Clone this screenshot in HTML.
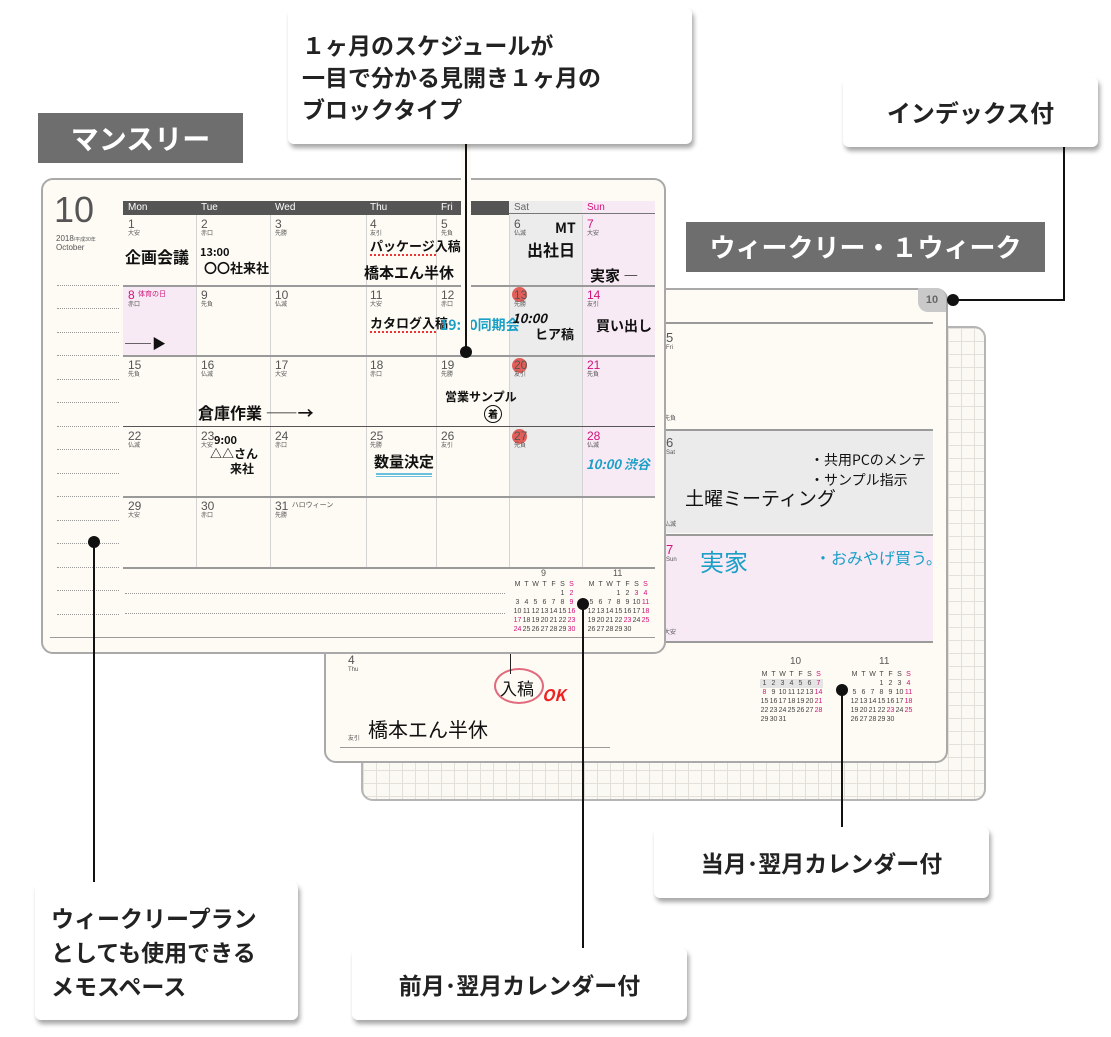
<!DOCTYPE html>
<html><head><meta charset="utf-8">
<style>
*{margin:0;padding:0;box-sizing:border-box}
body{width:1111px;height:1037px;background:#fff;position:relative;overflow:hidden;font-family:"Liberation Sans","Noto Sans CJK JP",sans-serif}
.a{position:absolute}
.box{position:absolute;background:#fff;border-radius:6px;box-shadow:2px 4px 5px rgba(0,0,0,.35);font-weight:bold;color:#222;font-family:"Noto Sans CJK JP",sans-serif;white-space:nowrap}
.lab{position:absolute;background:#6e6e6e;color:#fff;font-weight:bold;font-family:"Noto Sans CJK JP",sans-serif;text-align:center;white-space:nowrap}
.page{position:absolute;background:#fdfbf4;border:2px solid #a9a9a9;border-radius:12px}
.d{position:absolute;font-size:12px;color:#555;line-height:12px}
.d i{display:block;font-style:normal;font-size:6px;line-height:8px;color:#555}
.pk{color:#d0127a}
.v{position:absolute;width:1px;background:#d4d4d4}
.h{position:absolute;height:2px;background:#9a9a9a}
.hw{position:absolute;font-family:"Noto Sans CJK JP",sans-serif;font-weight:bold;color:#111;white-space:nowrap}
.bl{color:#1a9fc7}
.cn{position:absolute;background:#111}
.dot{position:absolute;width:12px;height:12px;border-radius:50%;background:#111}
.dl{position:absolute;height:0;border-top:1px dotted #999}
.mc{position:absolute;font-size:7px;color:#444;border-collapse:collapse}
.mc td{width:9px;text-align:center;line-height:9px;padding:0}
.mc td.s{color:#d0127a}
.rc{position:absolute;width:15px;height:15px;border-radius:50%;background:#e0463f;opacity:.85}
</style></head><body>

<div class="a" style="left:361px;top:326px;width:625px;height:475px;border:2px solid #b5b5b5;border-radius:12px;background-color:#fbf9f3;background-image:linear-gradient(#e4e0d8 1px,transparent 1px),linear-gradient(90deg,#e4e0d8 1px,transparent 1px);background-size:13px 13px"></div>

<div class="page" style="left:324px;top:288px;width:624px;height:475px"></div>
<div class="a" style="left:918px;top:288px;width:28px;height:24px;background:#c9c9c9;border-radius:0 10px 0 10px;font-size:11px;font-weight:bold;color:#666;text-align:center;line-height:24px">10</div>
<div class="h" style="left:588px;top:322px;width:345px"></div>
<div class="a" style="left:588px;top:430px;width:345px;height:103px;background:#ebebeb"></div>
<div class="a" style="left:588px;top:536px;width:345px;height:105px;background:#f8eaf4"></div>
<div class="h" style="left:588px;top:429px;width:345px"></div>
<div class="h" style="left:588px;top:534px;width:345px"></div>
<div class="h" style="left:588px;top:641px;width:345px"></div>
<div class="d" style="left:666px;top:332px;font-size:13px">5<i>Fri</i></div>
<div class="d" style="left:664px;top:413px;font-size:6px">先負</div>
<div class="d" style="left:666px;top:437px;font-size:13px">6<i>Sat</i></div>
<div class="d" style="left:664px;top:519px;font-size:6px">仏滅</div>
<div class="d pk" style="left:666px;top:544px;font-size:13px">7<i class="pk">Sun</i></div>
<div class="d" style="left:664px;top:627px;font-size:6px">大安</div>
<div class="hw" style="left:685px;top:484px;font-size:19px;font-weight:normal">土曜ミーティング</div>
<div class="hw" style="left:810px;top:450px;font-size:14px;font-weight:normal">・共用PCのメンテ</div>
<div class="hw" style="left:810px;top:470px;font-size:14px;font-weight:normal">・サンプル指示</div>
<div class="hw bl" style="left:700px;top:543px;font-size:24px;font-weight:normal">実家</div>
<div class="hw bl" style="left:815px;top:545px;font-size:16px;font-weight:normal">・おみやげ買う。</div>
<div class="d" style="left:348px;top:654px;font-size:12px">4<i>Thu</i></div>
<div class="d" style="left:348px;top:733px;font-size:6px">友引</div>
<div class="hw" style="left:368px;top:714px;font-size:20px;font-weight:normal">橋本エん半休</div>
<div class="a" style="left:494px;top:668px;width:50px;height:36px;border:2px solid #e26a7d;border-radius:50%"></div>
<div class="hw" style="left:500px;top:675px;font-size:17px;font-weight:normal">入稿</div>
<div class="hw" style="left:542px;top:682px;font-size:16px;color:#e22;font-style:italic">OK</div>
<div class="a" style="left:510px;top:654px;width:1px;height:20px;background:#222"></div>
<div class="h" style="left:340px;top:747px;width:270px;height:1px"></div>
<div class="a" style="left:790px;top:656px;font-size:10px;color:#555">10</div>
<div class="a" style="left:879px;top:656px;font-size:10px;color:#555">11</div>
<table class="mc" style="left:760px;top:670px"><tr><td>M</td><td>T</td><td>W</td><td>T</td><td>F</td><td>S</td><td class="s">S</td></tr>
<tr style="background:#e4e4e4"><td>1</td><td>2</td><td>3</td><td>4</td><td>5</td><td>6</td><td class="s">7</td></tr>
<tr><td class="s">8</td><td>9</td><td>10</td><td>11</td><td>12</td><td>13</td><td class="s">14</td></tr>
<tr><td>15</td><td>16</td><td>17</td><td>18</td><td>19</td><td>20</td><td class="s">21</td></tr>
<tr><td>22</td><td>23</td><td>24</td><td>25</td><td>26</td><td>27</td><td class="s">28</td></tr>
<tr><td>29</td><td>30</td><td>31</td><td></td><td></td><td></td><td></td></tr></table>
<table class="mc" style="left:850px;top:670px"><tr><td>M</td><td>T</td><td>W</td><td>T</td><td>F</td><td>S</td><td class="s">S</td></tr>
<tr><td></td><td></td><td></td><td>1</td><td>2</td><td>3</td><td class="s">4</td></tr>
<tr><td>5</td><td>6</td><td>7</td><td>8</td><td>9</td><td>10</td><td class="s">11</td></tr>
<tr><td>12</td><td>13</td><td>14</td><td>15</td><td>16</td><td>17</td><td class="s">18</td></tr>
<tr><td>19</td><td>20</td><td>21</td><td>22</td><td class="s">23</td><td>24</td><td class="s">25</td></tr>
<tr><td>26</td><td>27</td><td>28</td><td>29</td><td>30</td><td></td><td></td></tr></table>

<div class="page" style="left:41px;top:178px;width:625px;height:476px"></div>
<div class="a" style="left:54px;top:190px;font-size:36px;color:#555;line-height:40px">10</div>
<div class="a" style="left:56px;top:234px;font-size:8px;color:#555">2018<span style="font-size:5px">/平成30年</span><br>October</div>
<div class="dl" style="left:57px;top:285px;width:62px"></div>
<div class="dl" style="left:57px;top:308px;width:62px"></div>
<div class="dl" style="left:57px;top:332px;width:62px"></div>
<div class="dl" style="left:57px;top:355px;width:62px"></div>
<div class="dl" style="left:57px;top:379px;width:62px"></div>
<div class="dl" style="left:57px;top:402px;width:62px"></div>
<div class="dl" style="left:57px;top:426px;width:62px"></div>
<div class="dl" style="left:57px;top:449px;width:62px"></div>
<div class="dl" style="left:57px;top:473px;width:62px"></div>
<div class="dl" style="left:57px;top:496px;width:62px"></div>
<div class="dl" style="left:57px;top:520px;width:62px"></div>
<div class="dl" style="left:57px;top:543px;width:62px"></div>
<div class="dl" style="left:57px;top:567px;width:62px"></div>
<div class="dl" style="left:57px;top:590px;width:62px"></div>
<div class="dl" style="left:57px;top:614px;width:62px"></div>
<div class="dl" style="left:125px;top:613px;width:380px"></div>
<div class="dl" style="left:125px;top:593px;width:380px"></div>
<div class="a" style="left:509px;top:201px;width:73px;height:296px;background:#ececec"></div>
<div class="a" style="left:582px;top:201px;width:73px;height:296px;background:#f8eaf4"></div>
<div class="a" style="left:123px;top:287px;width:73px;height:68px;background:#f8eaf4"></div>
<div class="a" style="left:123px;top:201px;width:386px;height:14px;background:#555"></div>
<div class="h" style="left:509px;top:213px;width:146px;height:1px;background:#777"></div>
<div class="a" style="left:128px;top:202px;font-size:10px;color:#fff">Mon</div>
<div class="a" style="left:201px;top:202px;font-size:10px;color:#fff">Tue</div>
<div class="a" style="left:275px;top:202px;font-size:10px;color:#fff">Wed</div>
<div class="a" style="left:370px;top:202px;font-size:10px;color:#fff">Thu</div>
<div class="a" style="left:441px;top:202px;font-size:10px;color:#fff">Fri</div>
<div class="a" style="left:514px;top:202px;font-size:10px;color:#666">Sat</div>
<div class="a pk" style="left:587px;top:202px;font-size:10px">Sun</div>
<div class="v" style="left:196px;top:215px;height:352px"></div>
<div class="v" style="left:270px;top:215px;height:352px"></div>
<div class="v" style="left:366px;top:215px;height:352px"></div>
<div class="v" style="left:436px;top:215px;height:352px"></div>
<div class="v" style="left:509px;top:215px;height:352px"></div>
<div class="v" style="left:582px;top:215px;height:352px"></div>
<div class="h" style="left:123px;top:285px;width:532px"></div>
<div class="h" style="left:123px;top:355px;width:532px"></div>
<div class="h" style="left:123px;top:426px;width:532px;background:#555;height:1px"></div>
<div class="h" style="left:123px;top:496px;width:532px"></div>
<div class="h" style="left:123px;top:567px;width:532px"></div>
<div class="h" style="left:50px;top:637px;width:605px;height:1px"></div>
<div class="rc" style="left:512px;top:287px"></div>
<div class="rc" style="left:512px;top:358px"></div>
<div class="rc" style="left:512px;top:429px"></div>
<div class="d" style="left:128px;top:218px">1<i>大安</i></div>
<div class="d" style="left:201px;top:218px">2<i>赤口</i></div>
<div class="d" style="left:275px;top:218px">3<i>先勝</i></div>
<div class="d" style="left:370px;top:218px">4<i>友引</i></div>
<div class="d" style="left:441px;top:218px">5<i>先負</i></div>
<div class="d" style="left:514px;top:218px">6<i>仏滅</i></div>
<div class="d pk" style="left:587px;top:218px">7<i>大安</i></div>
<div class="d pk" style="left:128px;top:289px">8 <span style="font-size:7px;vertical-align:top">体育の日</span><i>赤口</i></div>
<div class="d" style="left:201px;top:289px">9<i>先負</i></div>
<div class="d" style="left:275px;top:289px">10<i>仏滅</i></div>
<div class="d" style="left:370px;top:289px">11<i>大安</i></div>
<div class="d" style="left:441px;top:289px">12<i>赤口</i></div>
<div class="d" style="left:514px;top:289px">13<i>先勝</i></div>
<div class="d pk" style="left:587px;top:289px">14<i>友引</i></div>
<div class="d" style="left:128px;top:359px">15<i>先負</i></div>
<div class="d" style="left:201px;top:359px">16<i>仏滅</i></div>
<div class="d" style="left:275px;top:359px">17<i>大安</i></div>
<div class="d" style="left:370px;top:359px">18<i>赤口</i></div>
<div class="d" style="left:441px;top:359px">19<i>先勝</i></div>
<div class="d" style="left:514px;top:359px">20<i>友引</i></div>
<div class="d pk" style="left:587px;top:359px">21<i>先負</i></div>
<div class="d" style="left:128px;top:430px">22<i>仏滅</i></div>
<div class="d" style="left:201px;top:430px">23<i>大安</i></div>
<div class="d" style="left:275px;top:430px">24<i>赤口</i></div>
<div class="d" style="left:370px;top:430px">25<i>先勝</i></div>
<div class="d" style="left:441px;top:430px">26<i>友引</i></div>
<div class="d" style="left:514px;top:430px">27<i>先負</i></div>
<div class="d pk" style="left:587px;top:430px">28<i>仏滅</i></div>
<div class="d" style="left:128px;top:500px">29<i>大安</i></div>
<div class="d" style="left:201px;top:500px">30<i>赤口</i></div>
<div class="d" style="left:275px;top:500px">31 <span style="font-size:7px;vertical-align:top">ハロウィーン</span><i>先勝</i></div>
<div class="hw" style="left:125px;top:244px;font-size:16px">企画会議</div>
<div class="hw" style="left:200px;top:244px;font-size:11px">13:00</div>
<div class="hw" style="left:204px;top:258px;font-size:13px">〇〇社来社</div>
<div class="hw" style="left:370px;top:236px;font-size:13px">パッケージ入稿</div>
<div class="a" style="left:370px;top:254px;width:66px;border-top:2px dotted #e33"></div>
<div class="hw" style="left:364px;top:262px;font-size:15px">橋本エん半休</div>
<div class="hw" style="left:555px;top:218px;font-size:14px">MT</div>
<div class="hw" style="left:527px;top:237px;font-size:16px">出社日</div>
<div class="hw" style="left:590px;top:265px;font-size:15px">実家 ―</div>
<div class="hw" style="left:124px;top:334px;font-size:14px">――▶</div>
<div class="hw" style="left:370px;top:313px;font-size:13px">カタログ入稿</div>
<div class="a" style="left:370px;top:331px;width:66px;border-top:2px dotted #e33"></div>
<div class="hw bl" style="left:440px;top:315px;font-size:14px">19:00同期会</div>
<div class="hw" style="left:512px;top:308px;font-size:13px;font-style:italic">10:00</div>
<div class="hw" style="left:535px;top:324px;font-size:13px">ヒア稿</div>
<div class="hw" style="left:596px;top:316px;font-size:14px">買い出し</div>
<div class="hw" style="left:198px;top:400px;font-size:16px">倉庫作業 ――→</div>
<div class="hw" style="left:445px;top:388px;font-size:12px">営業サンプル</div>
<div class="a" style="left:484px;top:405px;width:18px;height:18px;border:1.5px solid #111;border-radius:50%;font-size:10px;text-align:center;font-weight:bold">着</div>
<div class="hw" style="left:214px;top:432px;font-size:11px">9:00</div>
<div class="hw" style="left:210px;top:445px;font-size:12px">△△さん</div>
<div class="hw" style="left:230px;top:460px;font-size:12px">来社</div>
<div class="hw" style="left:374px;top:451px;font-size:15px">数量決定</div>
<div class="a" style="left:376px;top:473px;width:56px;height:4px;border-top:2px solid #6ac0df;border-bottom:1px solid #6ac0df"></div>
<div class="hw bl" style="left:586px;top:454px;font-size:13px;font-style:italic">10:00 渋谷</div>
<div class="a" style="left:541px;top:568px;font-size:9px;color:#555">9</div>
<div class="a" style="left:613px;top:568px;font-size:9px;color:#555">11</div>
<table class="mc" style="left:513px;top:580px"><tr><td>M</td><td>T</td><td>W</td><td>T</td><td>F</td><td>S</td><td class="s">S</td></tr>
<tr><td></td><td></td><td></td><td></td><td></td><td>1</td><td class="s">2</td></tr>
<tr><td>3</td><td>4</td><td>5</td><td>6</td><td>7</td><td>8</td><td class="s">9</td></tr>
<tr><td>10</td><td>11</td><td>12</td><td>13</td><td>14</td><td>15</td><td class="s">16</td></tr>
<tr><td class="s">17</td><td>18</td><td>19</td><td>20</td><td>21</td><td>22</td><td class="s">23</td></tr>
<tr><td class="s">24</td><td>25</td><td>26</td><td>27</td><td>28</td><td>29</td><td class="s">30</td></tr></table>
<table class="mc" style="left:587px;top:580px"><tr><td>M</td><td>T</td><td>W</td><td>T</td><td>F</td><td>S</td><td class="s">S</td></tr>
<tr><td></td><td></td><td></td><td>1</td><td>2</td><td class="s">3</td><td class="s">4</td></tr>
<tr><td>5</td><td>6</td><td>7</td><td>8</td><td>9</td><td>10</td><td class="s">11</td></tr>
<tr><td>12</td><td>13</td><td>14</td><td>15</td><td>16</td><td>17</td><td class="s">18</td></tr>
<tr><td>19</td><td>20</td><td>21</td><td>22</td><td class="s">23</td><td>24</td><td class="s">25</td></tr>
<tr><td>26</td><td>27</td><td>28</td><td>29</td><td>30</td><td></td><td></td></tr></table>

<div class="a" style="left:461px;top:144px;width:10px;height:206px;background:#fdfbf4"></div>
<div class="cn" style="left:465px;top:144px;width:2px;height:208px"></div>
<div class="dot" style="left:460px;top:346px"></div>
<div class="cn" style="left:1063px;top:147px;width:2px;height:154px"></div>
<div class="cn" style="left:953px;top:299px;width:112px;height:2px"></div>
<div class="dot" style="left:947px;top:294px"></div>
<div class="cn" style="left:93px;top:542px;width:2px;height:342px"></div>
<div class="dot" style="left:88px;top:536px"></div>
<div class="cn" style="left:582px;top:604px;width:2px;height:346px"></div>
<div class="dot" style="left:577px;top:598px"></div>
<div class="cn" style="left:841px;top:690px;width:2px;height:138px"></div>
<div class="dot" style="left:836px;top:684px"></div>

<div class="box" style="left:288px;top:8px;width:404px;height:136px;font-size:23px;line-height:32px;padding:20px 0 0 14px">１ヶ月のスケジュールが<br>一目で分かる見開き１ヶ月の<br>ブロックタイプ</div>
<div class="lab" style="left:38px;top:113px;width:205px;height:50px;font-size:28px;line-height:50px">マンスリー</div>
<div class="box" style="left:843px;top:77px;width:255px;height:70px;font-size:24px;line-height:70px;text-align:center">インデックス付</div>
<div class="lab" style="left:686px;top:222px;width:359px;height:50px;font-size:26px;line-height:50px">ウィークリー・１ウィーク</div>
<div class="box" style="left:654px;top:827px;width:335px;height:71px;font-size:23px;line-height:71px;text-align:center">当月･翌月カレンダー付</div>
<div class="box" style="left:35px;top:882px;width:263px;height:138px;font-size:23px;line-height:34px;padding:18px 0 0 16px">ウィークリープラン<br>としても使用できる<br>メモスペース</div>
<div class="box" style="left:352px;top:948px;width:335px;height:72px;font-size:23px;line-height:72px;text-align:center">前月･翌月カレンダー付</div>
</body></html>
